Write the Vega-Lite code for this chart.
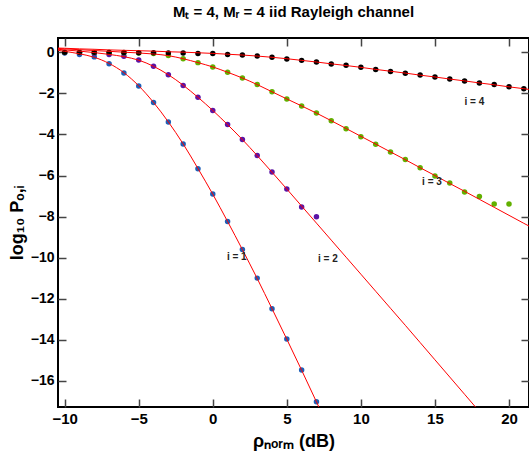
{
  "$schema": "https://vega.github.io/schema/vega-lite/v6.json",
  "width": 471,
  "height": 369,
  "autosize": "none",
  "padding": {"left": 58, "top": 38, "right": 0, "bottom": 54},
  "background": "white",
  "title": {
    "text": "Mₜ = 4, Mᵣ = 4 iid Rayleigh channel",
    "font": "Liberation Sans",
    "fontSize": 15,
    "fontWeight": "bold",
    "color": "black",
    "anchor": "middle",
    "frame": "group",
    "baseline": "alphabetic",
    "offset": 5
  },
  "config": {
    "view": {"stroke": "black", "strokeWidth": 2},
    "axis": {
      "domain": false,
      "grid": false,
      "tickSize": -8,
      "tickColor": "#444444",
      "tickWidth": 1.5,
      "labelFont": "Liberation Sans",
      "labelFontWeight": "bold",
      "labelFontSize": 15,
      "labelColor": "black",
      "labelPadding": 12,
      "labelFlush": false,
      "titleFont": "Liberation Sans",
      "titleFontWeight": "bold",
      "titleFontSize": 18,
      "titleColor": "black"
    }
  },
  "datasets": {
    "sims": [
      {"i": "1", "x": -10, "y": -0.03}, {"i": "1", "x": -9, "y": -0.11}, {"i": "1", "x": -8, "y": -0.22}, {"i": "1", "x": -7, "y": -0.55},
      {"i": "1", "x": -6, "y": -1.0}, {"i": "1", "x": -5, "y": -1.64}, {"i": "1", "x": -4, "y": -2.44}, {"i": "1", "x": -3, "y": -3.39},
      {"i": "1", "x": -2, "y": -4.46}, {"i": "1", "x": -1, "y": -5.67}, {"i": "1", "x": 0, "y": -6.9}, {"i": "1", "x": 1, "y": -8.24},
      {"i": "1", "x": 2, "y": -9.6}, {"i": "1", "x": 3, "y": -11.0}, {"i": "1", "x": 4, "y": -12.49}, {"i": "1", "x": 5, "y": -13.97},
      {"i": "1", "x": 6, "y": -15.48}, {"i": "1", "x": 7, "y": -17.02},
      {"i": "2", "x": -10, "y": -0.01}, {"i": "2", "x": -9, "y": -0.02}, {"i": "2", "x": -8, "y": -0.05}, {"i": "2", "x": -7, "y": -0.11},
      {"i": "2", "x": -6, "y": -0.19}, {"i": "2", "x": -5, "y": -0.37}, {"i": "2", "x": -4, "y": -0.68}, {"i": "2", "x": -3, "y": -1.09},
      {"i": "2", "x": -2, "y": -1.61}, {"i": "2", "x": -1, "y": -2.19}, {"i": "2", "x": 0, "y": -2.83}, {"i": "2", "x": 1, "y": -3.52},
      {"i": "2", "x": 2, "y": -4.25}, {"i": "2", "x": 3, "y": -5.03}, {"i": "2", "x": 4, "y": -5.83}, {"i": "2", "x": 5, "y": -6.66},
      {"i": "2", "x": 6, "y": -7.53}, {"i": "2", "x": 7, "y": -8.01},
      {"i": "3", "x": -10, "y": 0}, {"i": "3", "x": -9, "y": 0}, {"i": "3", "x": -8, "y": -0.01}, {"i": "3", "x": -7, "y": -0.01},
      {"i": "3", "x": -6, "y": -0.02}, {"i": "3", "x": -5, "y": -0.03}, {"i": "3", "x": -4, "y": -0.06}, {"i": "3", "x": -3, "y": -0.15},
      {"i": "3", "x": -2, "y": -0.31}, {"i": "3", "x": -1, "y": -0.5}, {"i": "3", "x": 0, "y": -0.71}, {"i": "3", "x": 1, "y": -0.97},
      {"i": "3", "x": 2, "y": -1.25}, {"i": "3", "x": 3, "y": -1.57}, {"i": "3", "x": 4, "y": -1.92}, {"i": "3", "x": 5, "y": -2.27},
      {"i": "3", "x": 6, "y": -2.61}, {"i": "3", "x": 7, "y": -2.95}, {"i": "3", "x": 8, "y": -3.33}, {"i": "3", "x": 9, "y": -3.72},
      {"i": "3", "x": 10, "y": -4.11}, {"i": "3", "x": 11, "y": -4.48}, {"i": "3", "x": 12, "y": -4.85}, {"i": "3", "x": 13, "y": -5.22},
      {"i": "3", "x": 14, "y": -5.62}, {"i": "3", "x": 15, "y": -6.02}, {"i": "3", "x": 16, "y": -6.37}, {"i": "3", "x": 17, "y": -6.8},
      {"i": "3", "x": 18, "y": -7.02}, {"i": "3", "x": 19, "y": -7.39}, {"i": "3", "x": 20, "y": -7.39},
      {"i": "4", "x": -10, "y": 0}, {"i": "4", "x": -9, "y": 0}, {"i": "4", "x": -8, "y": 0}, {"i": "4", "x": -7, "y": -0.01},
      {"i": "4", "x": -6, "y": -0.01}, {"i": "4", "x": -5, "y": -0.02}, {"i": "4", "x": -4, "y": -0.02}, {"i": "4", "x": -3, "y": -0.03},
      {"i": "4", "x": -2, "y": -0.03}, {"i": "4", "x": -1, "y": -0.05}, {"i": "4", "x": 0, "y": -0.06}, {"i": "4", "x": 1, "y": -0.1},
      {"i": "4", "x": 2, "y": -0.13}, {"i": "4", "x": 3, "y": -0.18}, {"i": "4", "x": 4, "y": -0.24}, {"i": "4", "x": 5, "y": -0.32},
      {"i": "4", "x": 6, "y": -0.39}, {"i": "4", "x": 7, "y": -0.47}, {"i": "4", "x": 8, "y": -0.57}, {"i": "4", "x": 9, "y": -0.63},
      {"i": "4", "x": 10, "y": -0.73}, {"i": "4", "x": 11, "y": -0.83}, {"i": "4", "x": 12, "y": -0.93}, {"i": "4", "x": 13, "y": -1.02},
      {"i": "4", "x": 14, "y": -1.1}, {"i": "4", "x": 15, "y": -1.2}, {"i": "4", "x": 16, "y": -1.3}, {"i": "4", "x": 17, "y": -1.39},
      {"i": "4", "x": 18, "y": -1.49}, {"i": "4", "x": 19, "y": -1.57}, {"i": "4", "x": 20, "y": -1.67}, {"i": "4", "x": 21, "y": -1.77}
    ],
    "curves": [
      {"i": "1", "x": -10.45, "y": 0.1}, {"i": "1", "x": -10, "y": 0.05}, {"i": "1", "x": -9, "y": -0.07}, {"i": "1", "x": -8, "y": -0.24},
      {"i": "1", "x": -7, "y": -0.54}, {"i": "1", "x": -6, "y": -0.99}, {"i": "1", "x": -5, "y": -1.63}, {"i": "1", "x": -4, "y": -2.44},
      {"i": "1", "x": -3, "y": -3.39}, {"i": "1", "x": -2, "y": -4.46}, {"i": "1", "x": -1, "y": -5.66}, {"i": "1", "x": 0, "y": -6.91},
      {"i": "1", "x": 1, "y": -8.24}, {"i": "1", "x": 2, "y": -9.61}, {"i": "1", "x": 3, "y": -11.02}, {"i": "1", "x": 4, "y": -12.49},
      {"i": "1", "x": 5, "y": -13.98}, {"i": "1", "x": 6, "y": -15.49}, {"i": "1", "x": 7, "y": -17.03}, {"i": "1", "x": 8, "y": -18.58},
      {"i": "2", "x": -10.45, "y": 0.15}, {"i": "2", "x": -10, "y": 0.12}, {"i": "2", "x": -9, "y": 0.06}, {"i": "2", "x": -8, "y": -0.01},
      {"i": "2", "x": -7, "y": -0.1}, {"i": "2", "x": -6, "y": -0.21}, {"i": "2", "x": -5, "y": -0.38}, {"i": "2", "x": -4, "y": -0.68},
      {"i": "2", "x": -3, "y": -1.09}, {"i": "2", "x": -2, "y": -1.6}, {"i": "2", "x": -1, "y": -2.19}, {"i": "2", "x": 0, "y": -2.83},
      {"i": "2", "x": 1, "y": -3.52}, {"i": "2", "x": 2, "y": -4.25}, {"i": "2", "x": 3, "y": -5.03}, {"i": "2", "x": 4, "y": -5.84},
      {"i": "2", "x": 5, "y": -6.66}, {"i": "2", "x": 6, "y": -7.49}, {"i": "2", "x": 7, "y": -8.32}, {"i": "2", "x": 8, "y": -9.15},
      {"i": "2", "x": 9, "y": -9.98}, {"i": "2", "x": 10, "y": -10.81}, {"i": "2", "x": 11, "y": -11.64}, {"i": "2", "x": 12, "y": -12.47},
      {"i": "2", "x": 13, "y": -13.3}, {"i": "2", "x": 14, "y": -14.14}, {"i": "2", "x": 15, "y": -14.98}, {"i": "2", "x": 16, "y": -15.82},
      {"i": "2", "x": 17, "y": -16.66}, {"i": "2", "x": 18, "y": -17.5}, {"i": "2", "x": 19, "y": -18.34},
      {"i": "3", "x": -10.45, "y": 0.19}, {"i": "3", "x": -10, "y": 0.17}, {"i": "3", "x": -9, "y": 0.13}, {"i": "3", "x": -8, "y": 0.09},
      {"i": "3", "x": -7, "y": 0.05}, {"i": "3", "x": -6, "y": 0.01}, {"i": "3", "x": -5, "y": -0.03}, {"i": "3", "x": -4, "y": -0.08},
      {"i": "3", "x": -3, "y": -0.16}, {"i": "3", "x": -2, "y": -0.31}, {"i": "3", "x": -1, "y": -0.5}, {"i": "3", "x": 0, "y": -0.71},
      {"i": "3", "x": 1, "y": -0.97}, {"i": "3", "x": 2, "y": -1.25}, {"i": "3", "x": 3, "y": -1.57}, {"i": "3", "x": 4, "y": -1.92},
      {"i": "3", "x": 5, "y": -2.27}, {"i": "3", "x": 6, "y": -2.61}, {"i": "3", "x": 7, "y": -2.96}, {"i": "3", "x": 8, "y": -3.33},
      {"i": "3", "x": 9, "y": -3.71}, {"i": "3", "x": 10, "y": -4.09}, {"i": "3", "x": 11, "y": -4.47}, {"i": "3", "x": 12, "y": -4.85},
      {"i": "3", "x": 13, "y": -5.23}, {"i": "3", "x": 14, "y": -5.62}, {"i": "3", "x": 15, "y": -6.0}, {"i": "3", "x": 16, "y": -6.39},
      {"i": "3", "x": 17, "y": -6.77}, {"i": "3", "x": 18, "y": -7.16}, {"i": "3", "x": 19, "y": -7.55}, {"i": "3", "x": 20, "y": -7.94},
      {"i": "3", "x": 21, "y": -8.33}, {"i": "3", "x": 21.5, "y": -8.52},
      {"i": "4", "x": -10.45, "y": 0.21}, {"i": "4", "x": -10, "y": 0.2}, {"i": "4", "x": -9, "y": 0.17}, {"i": "4", "x": -8, "y": 0.15},
      {"i": "4", "x": -7, "y": 0.12}, {"i": "4", "x": -6, "y": 0.1}, {"i": "4", "x": -5, "y": 0.08}, {"i": "4", "x": -4, "y": 0.06},
      {"i": "4", "x": -3, "y": 0.03}, {"i": "4", "x": -2, "y": 0.01}, {"i": "4", "x": -1, "y": -0.02}, {"i": "4", "x": 0, "y": -0.05},
      {"i": "4", "x": 1, "y": -0.09}, {"i": "4", "x": 2, "y": -0.13}, {"i": "4", "x": 3, "y": -0.18}, {"i": "4", "x": 4, "y": -0.24},
      {"i": "4", "x": 5, "y": -0.31}, {"i": "4", "x": 6, "y": -0.39}, {"i": "4", "x": 7, "y": -0.47}, {"i": "4", "x": 8, "y": -0.56},
      {"i": "4", "x": 9, "y": -0.64}, {"i": "4", "x": 10, "y": -0.73}, {"i": "4", "x": 11, "y": -0.83}, {"i": "4", "x": 12, "y": -0.92},
      {"i": "4", "x": 13, "y": -1.01}, {"i": "4", "x": 14, "y": -1.11}, {"i": "4", "x": 15, "y": -1.2}, {"i": "4", "x": 16, "y": -1.3},
      {"i": "4", "x": 17, "y": -1.39}, {"i": "4", "x": 18, "y": -1.49}, {"i": "4", "x": 19, "y": -1.58}, {"i": "4", "x": 20, "y": -1.68},
      {"i": "4", "x": 21, "y": -1.77}, {"i": "4", "x": 21.5, "y": -1.82}
    ],
    "labels": [
      {"label": "i = 1", "x": 1.62, "y": -9.97},
      {"label": "i = 2", "x": 7.77, "y": -10.05},
      {"label": "i = 3", "x": 14.8, "y": -6.34},
      {"label": "i = 4", "x": 17.66, "y": -2.43}
    ]
  },
  "layer": [
    {
      "data": {"name": "sims"},
      "mark": {"type": "circle", "size": 30, "opacity": 1},
      "encoding": {
        "x": {"field": "x", "type": "quantitative", "scale": {"domain": [-10.45, 21.35], "nice": false, "zero": false},
              "axis": {"orient": "bottom", "values": [-10, -5, 0, 5, 10, 15, 20], "title": "ρₙₒᵣₘ (dB)", "titlePadding": 6}},
        "y": {"field": "y", "type": "quantitative", "scale": {"domain": [-17.28, 0.7], "nice": false, "zero": false},
              "axis": {"orient": "left", "values": [0, -2, -4, -6, -8, -10, -12, -14, -16], "title": "log₁₀ Pₒ,ᵢ", "titlePadding": 4, "labelFontSize": 14}},
        "color": {"field": "i", "type": "nominal", "scale": {"domain": ["1", "2", "3", "4"], "range": ["#1d5fb8", "#5a14a6", "#62b000", "#000000"]}, "legend": null}
      }
    },
    {
      "data": {"name": "curves"},
      "mark": {"type": "line", "color": "#ff0000", "strokeWidth": 1, "clip": true, "interpolate": "monotone"},
      "encoding": {
        "x": {"field": "x", "type": "quantitative", "scale": {"domain": [-10.45, 21.35], "nice": false, "zero": false}, "axis": null},
        "y": {"field": "y", "type": "quantitative", "scale": {"domain": [-17.28, 0.7], "nice": false, "zero": false}, "axis": null},
        "detail": {"field": "i", "type": "nominal"}
      }
    },
    {
      "data": {"name": "labels"},
      "mark": {"type": "text", "font": "Liberation Sans", "fontWeight": "bold", "fontSize": 10, "color": "#222222", "align": "center", "baseline": "middle"},
      "encoding": {
        "x": {"field": "x", "type": "quantitative", "scale": {"domain": [-10.45, 21.35], "nice": false, "zero": false}, "axis": null},
        "y": {"field": "y", "type": "quantitative", "scale": {"domain": [-17.28, 0.7], "nice": false, "zero": false}, "axis": null},
        "text": {"field": "label"}
      }
    },
    {
      "data": {"name": "labels"},
      "mark": {"type": "point", "opacity": 0},
      "encoding": {
        "x": {"field": "x", "type": "quantitative", "scale": {"domain": [-10.45, 21.35], "nice": false, "zero": false},
              "axis": {"orient": "top", "values": [-10, -5, 0, 5, 10, 15, 20], "labels": false, "title": null}},
        "y": {"field": "y", "type": "quantitative", "scale": {"domain": [-17.28, 0.7], "nice": false, "zero": false},
              "axis": {"orient": "right", "values": [0, -2, -4, -6, -8, -10, -12, -14, -16], "labels": false, "title": null}}
      }
    }
  ],
  "resolve": {"scale": {"x": "independent", "y": "independent"}}
}
